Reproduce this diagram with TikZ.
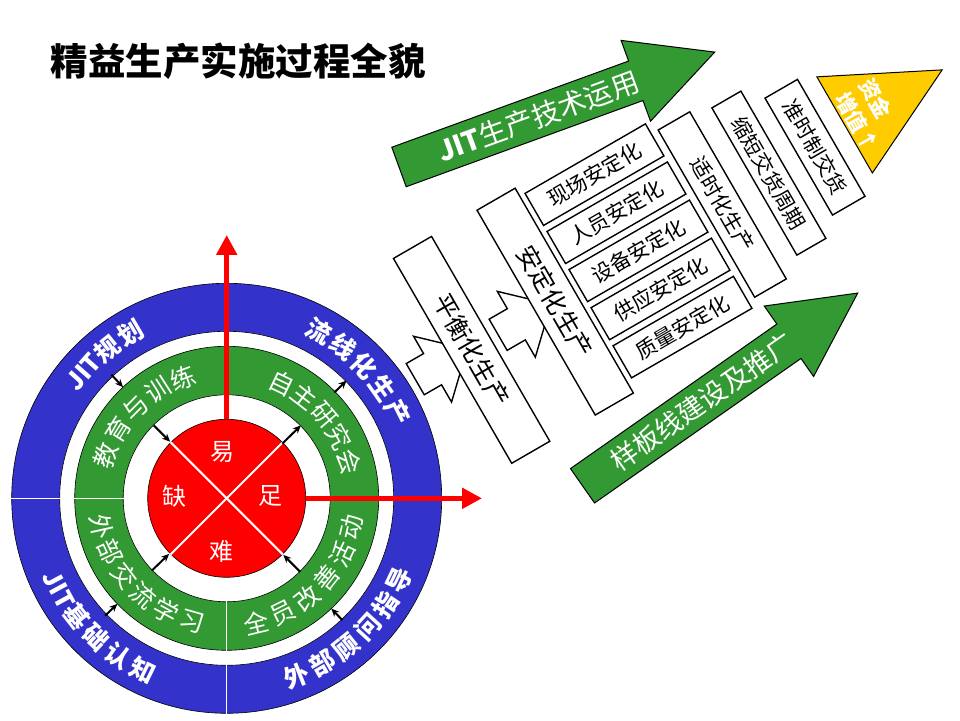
\documentclass[tikz,border=0pt]{standalone}
\usepackage{fontspec}
\setmainfont{Noto Sans CJK SC}
\usetikzlibrary{arrows.meta}

\definecolor{ringblue}{RGB}{51,51,204}
\definecolor{ringgreen}{RGB}{51,153,51}
\definecolor{tipyellow}{RGB}{255,204,0}

\begin{document}
\begin{tikzpicture}[x=1pt,y=1pt,
    ring/.style={draw=black,line width=0.6pt},
    spoke/.style={-{Stealth[length=8pt,width=7pt]},line width=2pt},
    redarrow/.style={-{Triangle[length=20pt,width=20pt]},red,line width=5pt},
    coretext/.style={text=white,font=\fontsize{24}{24}\selectfont},
    bluechar/.style={text=white,inner sep=0pt,font=\bfseries\fontsize{25}{25}\selectfont},
    greenchar/.style={text=white,inner sep=0pt,font=\fontsize{25}{25}\selectfont},
    greenarrow/.style={fill=ringgreen,draw=black,line width=1pt},
    arrowlabel/.style={text=white,inner sep=0pt},
    blockarrow/.style={fill=white,draw=black,line width=1.4pt},
    longbox/.style={draw=black,fill=white,line width=1.4pt,rotate=-90,inner sep=0pt},
    smallbox/.style={draw=black,fill=white,line width=1.4pt,inner sep=0pt,
        minimum width=139,minimum height=37,font=\fontsize{21}{21}\selectfont}]

\useasboundingbox (0,0) rectangle (960,720);

% title
\node[font=\bfseries\fontsize{37.5}{37.5}\selectfont] (title) at (238,659) {精益生产实施过程全貌};

% rings
\coordinate (C) at (226.7,221.7);
\path[ring,fill=ringblue] (C) circle[radius=215];
\path[ring,fill=white] (C) circle[radius=167];
\path[ring,fill=ringgreen] (C) circle[radius=152];
\path[ring,fill=white] (C) circle[radius=103.5];
\node[circle,ring,fill=red,minimum size=158,inner sep=0pt] (core) at (C) {};

% quadrant lines
\draw[white,line width=1pt] (core.west) -- ++(-136,0);
\draw[white,line width=1pt] (core.south) -- ++(0,-136);
\draw[white,line width=2pt] (core.45) -- (core.225);
\draw[white,line width=2pt] (core.135) -- (core.-45);

\node[coretext] (yi) at (222.5,268.3) {易};
\node[coretext] (que) at (174,223.3) {缺};
\node[coretext] (zu) at (270.8,224) {足};
\node[coretext] (nan) at (221.7,169) {难};

% outer ring, upper half: tops outward
\node[bluechar,rotate=48.5] (plan0) at ([shift={(138.5:191)}]C) {JIT};
\foreach \ch/\ang [count=\k] in {规/128.8,划/120.2}
  \node[bluechar,rotate={\ang-90}] (plan\k) at ([shift={(\ang:191)}]C) {\ch};
\foreach \ch/\ang [count=\k] in {流/61,线/52.4,化/43.8,生/35.2,产/26.6}
  \node[bluechar,rotate={\ang-90}] (flow\k) at ([shift={(\ang:191)}]C) {\ch};
% outer ring, lower half: tops inward
\foreach \ch/\ang [count=\k] in {外/-68.4,部/-59.8,顾/-51.2,问/-42.5,指/-33.9,导/-25.3}
  \node[bluechar,rotate={\ang+90}] (guide\k) at ([shift={(\ang:191)}]C) {\ch};
\node[bluechar,rotate=298.5] (basic0) at ([shift={(208.5:191)}]C) {JIT};
\foreach \ch/\ang [count=\k] in {基/218.2,础/226.8,认/235.4,知/244}
  \node[bluechar,rotate={\ang+90}] (basic\k) at ([shift={(\ang:191)}]C) {\ch};

% inner ring
\foreach \ch/\ang [count=\k] in {教/160.4,育/147.8,与/135.2,训/122.6,练/110}
  \node[greenchar,rotate={\ang-90}] (train\k) at ([shift={(\ang:128)}]C) {\ch};
\foreach \ch/\ang [count=\k] in {自/64.4,主/52.5,研/40.6,究/28.7,会/16.8}
  \node[greenchar,rotate={\ang-90}] (study\k) at ([shift={(\ang:128)}]C) {\ch};
\foreach \ch/\ang [count=\k] in {全/-76.5,员/-63.8,改/-51.1,善/-38.4,活/-25.7,动/-13}
  \node[greenchar,rotate={\ang+90}] (kaizen\k) at ([shift={(\ang:128)}]C) {\ch};
\foreach \ch/\ang [count=\k] in {外/192.6,部/204.9,交/217.2,流/229.4,学/241.7,习/254}
  \node[greenchar,rotate={\ang+90}] (visit\k) at ([shift={(\ang:128)}]C) {\ch};

% spokes between the rings
\foreach \a/\ri/\ro [count=\i] in {133/169/152,135/103/80,44.5/78/104,44.5/151/168,
    -45/104/80,-46.5/168/152,-136/104/80,-136/169/152}
{
  \coordinate (p\i) at ([shift={(\a:\ri)}]C);
  \coordinate (q\i) at ([shift={(\a:\ro)}]C);
  \draw[spoke] (p\i) -- (q\i);
}

% red axes
\coordinate (uptip) at (226.7,485);
\coordinate (righttip) at (482,221.7);
\draw[redarrow] (core.north) -- (uptip);
\draw[redarrow] (core.east) -- (righttip);

% green arrows
\begin{scope}[shift={(399,553)},rotate=20,transform shape]
  \path[greenarrow] (0,-21) -- (252,-21) -- (252,-43) -- (336,0) -- (252,43) -- (252,21) -- (0,21) -- cycle;
  \node[arrowlabel,font=\fontsize{28}{28}\selectfont] (techlabel) at (148,0) {\textbf{JIT}生产技术运用};
\end{scope}
\begin{scope}[shift={(582.5,234.2)},rotate=35,transform shape]
  \path[greenarrow] (0,-21) -- (252,-21) -- (252,-43) -- (336,0) -- (252,43) -- (252,21) -- (0,21) -- cycle;
  \node[arrowlabel,font=\fontsize{27}{27}\selectfont] (modellabel) at (146,0) {样板线建设及推广};
\end{scope}

% rocket of boxes
\begin{scope}[shift={(0,720)},rotate=30,transform shape]
  \path[blockarrow] (170,-518) -- (190,-518) -- (190,-498) -- (230,-536) -- (190,-574) -- (190,-554) -- (170,-554) -- cycle;
  \path[blockarrow] (264,-521) -- (285,-521) -- (285,-501) -- (325,-539) -- (285,-577) -- (285,-557) -- (264,-557) -- cycle;

  \node[longbox,minimum width=236.5,minimum height=44,font=\fontsize{25}{25}\selectfont] (balance) at (233.5,-538.8) {平衡化生产};
  \node[longbox,minimum width=236.5,minimum height=44,font=\fontsize{25}{25}\selectfont] (stable) at (330,-538.8) {安定化生产};
  \foreach \lbl [count=\k] in {现场,人员,设备,供应,质量}
    \node[smallbox] (s\k) at (427.5,{-448.5-44*(\k-1)}) {\lbl 安定化};
  \node[longbox,minimum width=193,minimum height=36.5,font=\fontsize{21}{21}\selectfont] (timely) at (523.2,-538.2) {适时化生产};
  \node[longbox,minimum width=170,minimum height=33.5,font=\fontsize{21}{21}\selectfont] (lead) at (579.3,-534.4) {缩短交货周期};
  \node[longbox,minimum width=135,minimum height=37.5,font=\fontsize{21}{21}\selectfont] (ontime) at (632.2,-535) {准时制交货};

  \path[fill=tipyellow,draw=black,line width=1pt] (669,-475) -- (781,-531.6) -- (669,-586) -- cycle;
  \node[rotate=-90,align=left,text=white,inner sep=0pt,font=\bfseries\fontsize{21}{28}\selectfont] (fund) at (695,-534) {资金\\增值↑};
\end{scope}

\end{tikzpicture}
\end{document}
